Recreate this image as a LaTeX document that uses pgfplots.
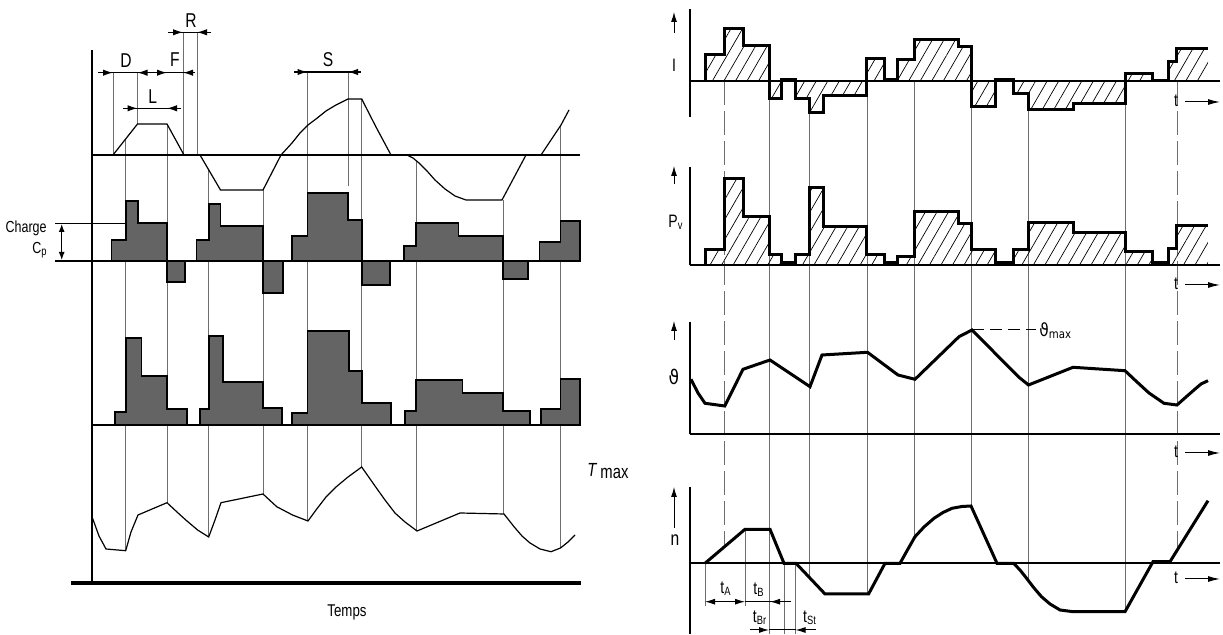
\documentclass[border=0pt]{standalone}
\usepackage{pgfplots}
\pgfplotsset{compat=1.18}
\usetikzlibrary{arrows.meta,patterns.meta}
\usepackage{fontspec}
\setmainfont{Liberation Sans}
\newfontfamily\nar[FakeStretch=0.78]{Liberation Sans}
\newfontfamily\dv[FakeStretch=0.85]{DejaVu Sans}
\definecolor{thin}{RGB}{85,85,85}
\definecolor{vline}{RGB}{110,110,110}
\definecolor{barfill}{RGB}{100,100,100}
\begin{document}
\begin{tikzpicture}[every node/.append style={inner sep=0.5pt}]
\begin{axis}[width=611.5pt,height=317pt,scale only axis,
  xmin=0,xmax=1223,ymin=0,ymax=634,y dir=reverse,hide axis,clip=false]
\addplot[draw=none] coordinates {(0,0) (1223,634)};
% ================= LEFT PANEL =================
% vertical thin lines
\addplot[vline,line width=0.4pt] coordinates {(125.7,139) (125.7,550.7)};
\addplot[vline,line width=0.4pt] coordinates {(167,124) (167,502.7)};
\addplot[vline,line width=0.4pt] coordinates {(208.7,170) (208.7,537)};
\addplot[vline,line width=0.4pt] coordinates {(263,190) (263,494)};
\addplot[vline,line width=0.4pt] coordinates {(307.5,72) (307.5,521)};
\addplot[vline,line width=0.4pt] coordinates {(361.7,99) (361.7,467)};
\addplot[vline,line width=0.4pt] coordinates {(416,161) (416,531)};
\addplot[vline,line width=0.4pt] coordinates {(503,200) (503,514)};
\addplot[vline,line width=0.4pt] coordinates {(560.5,125) (560.5,548)};
\addplot[vline,line width=0.4pt] coordinates {(113,72.7) (113,155)};
\addplot[vline,line width=0.4pt] coordinates {(137.5,72.7) (137.5,124)};
\addplot[vline,line width=0.4pt] coordinates {(183,32.3) (183,155)};
\addplot[vline,line width=0.4pt] coordinates {(197,32.3) (197,155)};
\addplot[vline,line width=0.4pt] coordinates {(348,72) (348,186)};
% axes
\addplot[black,line width=1pt] coordinates {(92,50) (92,583)};
\addplot[black,line width=1.6pt] coordinates {(71,583) (581,583)};
\addplot[black,line width=1pt] coordinates {(92,155) (580,155)};
\addplot[black,line width=0.9pt] coordinates {(55,261) (580,261)};
\addplot[black,line width=0.7pt] coordinates {(55,223.3) (126,223.3)};
\addplot[black,line width=1pt] coordinates {(92,425) (581,425)};
% speed curve
\addplot[thin,line width=0.6pt] coordinates {(92,155) (113,155) (137.5,124) (167,124) (184,155) (200,155) (220.5,190) (263,190) (281,155) (292,143) (300,133) (308,125) (316,119) (326,111) (336,105) (348,99) (361.7,99) (376,127) (391,155) (407,155) (413,158) (419,163) (427,171) (435,180) (445,189) (455,196) (466,200) (502,200) (526,155) (541,155) (561,125) (569,110)};
% charge bars
\addplot[fill=barfill,draw=black,line width=0.9pt] coordinates {(111.5,261) (111.5,240) (125.7,240) (125.7,201) (138,201) (138,223) (167,223) (167,261)} --cycle;
\addplot[fill=barfill,draw=black,line width=0.9pt] coordinates {(167,261) (167,282) (185,282) (185,261)} --cycle;
\addplot[fill=barfill,draw=black,line width=0.9pt] coordinates {(196.5,261) (196.5,240) (208.7,240) (208.7,204) (220.5,204) (220.5,226) (263,226) (263,261)} --cycle;
\addplot[fill=barfill,draw=black,line width=0.9pt] coordinates {(263,261) (263,293) (282.6,293) (282.6,261)} --cycle;
\addplot[fill=barfill,draw=black,line width=0.9pt] coordinates {(291.7,261) (291.7,236) (307.5,236) (307.5,193) (348,193) (348,220) (361.7,220) (361.7,261)} --cycle;
\addplot[fill=barfill,draw=black,line width=0.9pt] coordinates {(361.7,261) (361.7,285) (390,285) (390,261)} --cycle;
\addplot[fill=barfill,draw=black,line width=0.9pt] coordinates {(404,261) (404,246) (416,246) (416,223) (458.5,223) (458.5,236) (503,236) (503,261)} --cycle;
\addplot[fill=barfill,draw=black,line width=0.9pt] coordinates {(503,261) (503,279) (528,279) (528,261)} --cycle;
\addplot[fill=barfill,draw=black,line width=0.9pt] coordinates {(539.5,261) (539.5,242) (560.5,242) (560.5,221) (580,221) (580,261)} --cycle;
% loss bars
\addplot[fill=barfill,draw=black,line width=0.9pt] coordinates {(114.6,425) (114.6,411.7) (125.7,411.7) (125.7,337.7) (141.5,337.7) (141.5,376) (167,376) (167,409) (187,409) (187,425)} --cycle;
\addplot[fill=barfill,draw=black,line width=0.9pt] coordinates {(199.6,425) (199.6,409) (208.7,409) (208.7,335.7) (223,335.7) (223,381.7) (263,381.7) (263,408) (281.8,408) (281.8,425)} --cycle;
\addplot[fill=barfill,draw=black,line width=0.9pt] coordinates {(291.7,425) (291.7,413) (307.5,413) (307.5,330.7) (349,330.7) (349,371) (361.7,371) (361.7,402.7) (391,402.7) (391,425)} --cycle;
\addplot[fill=barfill,draw=black,line width=0.9pt] coordinates {(405,425) (405,411) (416,411) (416,380) (462.5,380) (462.5,392.7) (503,392.7) (503,411) (529.6,411) (529.6,425)} --cycle;
\addplot[fill=barfill,draw=black,line width=0.9pt] coordinates {(540.7,425) (540.7,409) (560.5,409) (560.5,379) (580,379) (580,425)} --cycle;
% temperature curve
\addplot[thin,line width=0.6pt] coordinates {(92,516.7) (99,536) (106,549) (125.7,550.7) (131,532) (138,515) (167,502.7) (177,512) (185.8,520) (197.6,530) (208.7,537) (215,520) (221,502.7) (263,494) (276.7,506.7) (292.5,515) (308,521) (316,510) (326,497) (336,487) (348,477) (361.7,467) (368,476) (375.5,486.7) (385,500) (395,513) (405,522) (417,531) (460,513) (504,514) (514,526.7) (522,536) (530,543) (540,549) (551,551.7) (560.5,548) (568,542) (575,535)};
% dimension arrows
\draw[black,line width=0.6pt] (axis cs:98,72.7) -- (axis cs:195,72.7);
\draw[-{Latex[length=5pt,width=3.2pt]},line width=0.6pt] (axis cs:98,72.7) -- (axis cs:113,72.7);
\draw[-{Latex[length=5pt,width=3.2pt]},line width=0.6pt] (axis cs:150,72.7) -- (axis cs:137.5,72.7);
\draw[-{Latex[length=5pt,width=3.2pt]},line width=0.6pt] (axis cs:154,72.7) -- (axis cs:167,72.7);
\draw[-{Latex[length=5pt,width=3.2pt]},line width=0.6pt] (axis cs:195,72.7) -- (axis cs:183,72.7);
\draw[black,line width=0.6pt] (axis cs:168,32.3) -- (axis cs:211,32.3);
\draw[-{Latex[length=5pt,width=3.2pt]},line width=0.6pt] (axis cs:168,32.3) -- (axis cs:183,32.3);
\draw[-{Latex[length=5pt,width=3.2pt]},line width=0.6pt] (axis cs:211,32.3) -- (axis cs:197,32.3);
\draw[black,line width=0.6pt] (axis cs:123,108.3) -- (axis cs:181,108.3);
\draw[-{Latex[length=5pt,width=3.2pt]},line width=0.6pt] (axis cs:123,108.3) -- (axis cs:137.5,108.3);
\draw[-{Latex[length=5pt,width=3.2pt]},line width=0.6pt] (axis cs:181,108.3) -- (axis cs:167,108.3);
\draw[black,line width=0.6pt] (axis cs:294,72) -- (axis cs:361,72);
\draw[-{Latex[length=5pt,width=3.2pt]},line width=0.6pt] (axis cs:294,72) -- (axis cs:307.5,72);
\draw[-{Latex[length=5pt,width=3.2pt]},line width=0.6pt] (axis cs:361,72) -- (axis cs:348,72);
\draw[{Latex[length=4pt,width=3pt]}-{Latex[length=4pt,width=3pt]},line width=0.6pt] (axis cs:61.7,224) -- (axis cs:61.7,260);
% left texts
\node[font=\fontsize{10}{11}\selectfont\nar] at (axis cs:126,60.7) {D};
\node[font=\fontsize{10}{11}\selectfont\nar] at (axis cs:175,60) {F};
\node[font=\fontsize{10}{11}\selectfont\nar] at (axis cs:191,20.7) {R};
\node[font=\fontsize{10}{11}\selectfont\nar] at (axis cs:152.7,96.7) {L};
\node[font=\fontsize{10}{11}\selectfont\nar] at (axis cs:328,59.3) {S};
\node[font=\fontsize{8}{9}\selectfont\nar,anchor=east] at (axis cs:48,228) {Charge};
\node[font=\fontsize{8}{9}\selectfont\nar] at (axis cs:40,250) {C\textsubscript{p}};
\node[font=\fontsize{8.5}{9}\selectfont\nar] at (axis cs:347,612) {Temps};
\node[font=\fontsize{9.5}{10}\selectfont\nar,anchor=west] at (axis cs:586,471) {\textit{T}\,\raisebox{-1pt}{max}};
% ================= RIGHT PANEL =================
% vertical thin lines
\addplot[vline,line width=0.4pt,dash pattern=on 12pt off 3pt] coordinates {(724.8,81) (724.8,546.5)};
\addplot[vline,line width=0.4pt] coordinates {(769,99) (769,634)};
\addplot[vline,line width=0.4pt] coordinates {(809.5,113) (809.5,577.7)};
\addplot[vline,line width=0.4pt] coordinates {(867,95.7) (867,594)};
\addplot[vline,line width=0.4pt] coordinates {(914.5,81) (914.5,537)};
\addplot[vline,line width=0.4pt] coordinates {(971.7,106.7) (971.7,506)};
\addplot[vline,line width=0.4pt] coordinates {(1028,110) (1028,580)};
\addplot[vline,line width=0.4pt] coordinates {(1125,103.3) (1125,611.7)};
\addplot[vline,line width=0.4pt,dash pattern=on 12pt off 3pt] coordinates {(1177,81) (1177,550.5)};
% extension lines at bottom
\addplot[vline,line width=0.4pt] coordinates {(705,563.3) (705,606)};
\addplot[vline,line width=0.4pt] coordinates {(745,529.3) (745,606)};
\addplot[vline,line width=0.4pt] coordinates {(784.5,563.3) (784.5,634)};
\addplot[vline,line width=0.4pt] coordinates {(795.5,563.3) (795.5,634)};
% axes
\addplot[black,line width=0.8pt] coordinates {(690,9) (690,117)};
\addplot[black,line width=0.8pt] coordinates {(690,167) (690,265)};
\addplot[black,line width=0.8pt] coordinates {(690,322) (690,434)};
\addplot[black,line width=0.8pt] coordinates {(690,487) (690,634)};
\addplot[black,line width=0.8pt] coordinates {(690,81) (1220,81)};
\addplot[black,line width=0.9pt] coordinates {(690,265) (1220,265)};
\addplot[black,line width=0.9pt] coordinates {(690,434) (1220,434)};
\addplot[black,line width=0.8pt] coordinates {(690,563.3) (1220,563.3)};
% current I
\addplot[draw=none,pattern={Lines[angle=60,distance=5pt,line width=0.35pt]}] coordinates {(705,81) (705,55) (724,55) (724,28.3) (743,28.3) (743,46) (769,46) (769,99) (781.7,99) (781.7,80) (795,80) (795,99) (809,99) (809,113) (823,113) (823,95.7) (866.7,95.7) (866.7,58.3) (884,58.3) (884,80) (897,80) (897,59.3) (914,59.3) (914,39.3) (958,39.3) (958,46.7) (971.7,46.7) (971.7,106.7) (995,106.7) (995,80) (1013,80) (1013,94) (1028,94) (1028,110) (1073,110) (1073,103.3) (1125,103.3) (1125,73.3) (1152,73.3) (1152,81) (1168,81) (1168,61.7) (1176.7,61.7) (1176.7,48.3) (1208,48.3) (1208,81)} --cycle;
\addplot[black,line width=1.5pt] coordinates {(705,81) (705,55) (724,55) (724,28.3) (743,28.3) (743,46) (769,46) (769,99) (781.7,99) (781.7,80) (795,80) (795,99) (809,99) (809,113) (823,113) (823,95.7) (866.7,95.7) (866.7,58.3) (884,58.3) (884,80) (897,80) (897,59.3) (914,59.3) (914,39.3) (958,39.3) (958,46.7) (971.7,46.7) (971.7,106.7) (995,106.7) (995,80) (1013,80) (1013,94) (1028,94) (1028,110) (1073,110) (1073,103.3) (1125,103.3) (1125,73.3) (1152,73.3) (1152,81) (1168,81) (1168,61.7) (1176.7,61.7) (1176.7,48.3) (1208,48.3)};
% losses Pv
\addplot[draw=none,pattern={Lines[angle=60,distance=5pt,line width=0.35pt]}] coordinates {(705,265) (705,250) (724,250) (724,179) (743,179) (743,216.7) (769,216.7) (769,255) (781.7,255) (781.7,263) (795,263) (795,255) (809,255) (809,188) (823,188) (823,226.7) (866.7,226.7) (866.7,255) (884,255) (884,263) (897,263) (897,256.7) (914,256.7) (914,211.7) (958,211.7) (958,224) (971.7,224) (971.7,249.3) (995,249.3) (995,263) (1013,263) (1013,250) (1028,250) (1028,222.7) (1073,222.7) (1073,232.3) (1125,232.3) (1125,251.7) (1152,251.7) (1152,263) (1168,263) (1168,248.3) (1176.7,248.3) (1176.7,226) (1208,226) (1208,265)} --cycle;
\addplot[black,line width=1.5pt] coordinates {(705,265) (705,250) (724,250) (724,179) (743,179) (743,216.7) (769,216.7) (769,255) (781.7,255) (781.7,263) (795,263) (795,255) (809,255) (809,188) (823,188) (823,226.7) (866.7,226.7) (866.7,255) (884,255) (884,263) (897,263) (897,256.7) (914,256.7) (914,211.7) (958,211.7) (958,224) (971.7,224) (971.7,249.3) (995,249.3) (995,263) (1013,263) (1013,250) (1028,250) (1028,222.7) (1073,222.7) (1073,232.3) (1125,232.3) (1125,251.7) (1152,251.7) (1152,263) (1168,263) (1168,248.3) (1176.7,248.3) (1176.7,226) (1208,226)};
% temperature theta
\addplot[black,line width=1.5pt] coordinates {(691,379.3) (698,393) (705,403.3) (724.8,406) (743,369.3) (770,360) (810,386.7) (822,355) (867.5,352.3) (898,375) (915,379.3) (959,336.7) (972,330) (1019,377.3) (1028.5,385) (1073,367.3) (1125,370.7) (1137,382) (1149,393) (1164,403.3) (1177,405) (1186,397) (1194,390) (1201,384) (1208,380.7)};
\addplot[black,line width=0.5pt,dash pattern=on 6pt off 3pt] coordinates {(972,330) (1036,330)};
% speed n
\addplot[black,line width=1.5pt] coordinates {(705,563.3) (745,529.3) (770,529.3) (784,563.3) (796,563.3) (825,594) (868.6,594) (885,563.3) (900,563.3) (908,549) (915,536.7) (924,527) (934,518.3) (943,512.5) (952,508.3) (962,506.5) (971,506) (997,563.3) (1013.6,563.3) (1020,570) (1026.6,578.3) (1034,588) (1041.5,596.7) (1050,604) (1060,610) (1073,611.7) (1125,611.7) (1153,561.7) (1170,561.7) (1208,500.7)};
% label arrows
\draw[-{Latex[length=5pt,width=3pt]},line width=0.5pt] (axis cs:674,33) -- (axis cs:674,12);
\draw[-{Latex[length=5pt,width=3pt]},line width=0.5pt] (axis cs:674,184) -- (axis cs:674,166);
\draw[-{Latex[length=5pt,width=3pt]},line width=0.5pt] (axis cs:674,340) -- (axis cs:674,321);
\draw[-{Latex[length=5pt,width=3pt]},line width=0.5pt] (axis cs:674,528) -- (axis cs:674,487);
\node[font=\fontsize{9}{10}\selectfont\nar] at (axis cs:674,65) {I};
\node[font=\fontsize{9}{10}\selectfont\nar] at (axis cs:676,222) {P\textsubscript{v}};
\node[font=\fontsize{10}{11}\selectfont\dv] at (axis cs:674,377) {ϑ};
\node[font=\fontsize{10}{11}\selectfont\nar] at (axis cs:675,540) {n};
\node[font=\fontsize{9}{10}\selectfont\dv,anchor=west] at (axis cs:1038,331) {ϑ\textsubscript{max}};
% t arrows
\node[font=\fontsize{9}{10}\selectfont\nar] at (axis cs:1176,101) {t};
\node[font=\fontsize{9}{10}\selectfont\nar] at (axis cs:1176,284) {t};
\node[font=\fontsize{9}{10}\selectfont\nar] at (axis cs:1176,452) {t};
\node[font=\fontsize{9}{10}\selectfont\nar] at (axis cs:1176,578) {t};
\draw[-{Latex[length=6pt,width=3pt]},line width=0.5pt] (axis cs:1185,102) -- (axis cs:1220,102);
\draw[-{Latex[length=6pt,width=3pt]},line width=0.5pt] (axis cs:1185,285) -- (axis cs:1220,285);
\draw[-{Latex[length=6pt,width=3pt]},line width=0.5pt] (axis cs:1185,453) -- (axis cs:1220,453);
\draw[-{Latex[length=6pt,width=3pt]},line width=0.5pt] (axis cs:1185,579) -- (axis cs:1220,579);
% time interval arrows
\draw[{Latex[length=5pt,width=3pt]}-{Latex[length=5pt,width=3pt]},line width=0.5pt] (axis cs:705,601.7) -- (axis cs:745,601.7);
\draw[line width=0.5pt] (axis cs:745,601.7) -- (axis cs:791,601.7);
\draw[{Latex[length=5pt,width=3pt]}-,line width=0.5pt] (axis cs:770,601.7) -- (axis cs:785,601.7);
\draw[-{Latex[length=5pt,width=3pt]},line width=0.5pt] (axis cs:750,630) -- (axis cs:769,630);
\draw[line width=0.5pt] (axis cs:769,630) -- (axis cs:795.5,630);
\draw[-{Latex[length=5pt,width=3pt]},line width=0.5pt] (axis cs:816,630) -- (axis cs:795.5,630);
\node[font=\fontsize{9}{10}\selectfont\nar] at (axis cs:726,589) {t\textsubscript{A}};
\node[font=\fontsize{9}{10}\selectfont\nar] at (axis cs:759,590) {t\textsubscript{B}};
\node[font=\fontsize{9}{10}\selectfont\nar] at (axis cs:760,618) {t\textsubscript{Br}};
\node[font=\fontsize{9}{10}\selectfont\nar] at (axis cs:810,618) {t\textsubscript{St}};
\end{axis}
\end{tikzpicture}
\end{document}
